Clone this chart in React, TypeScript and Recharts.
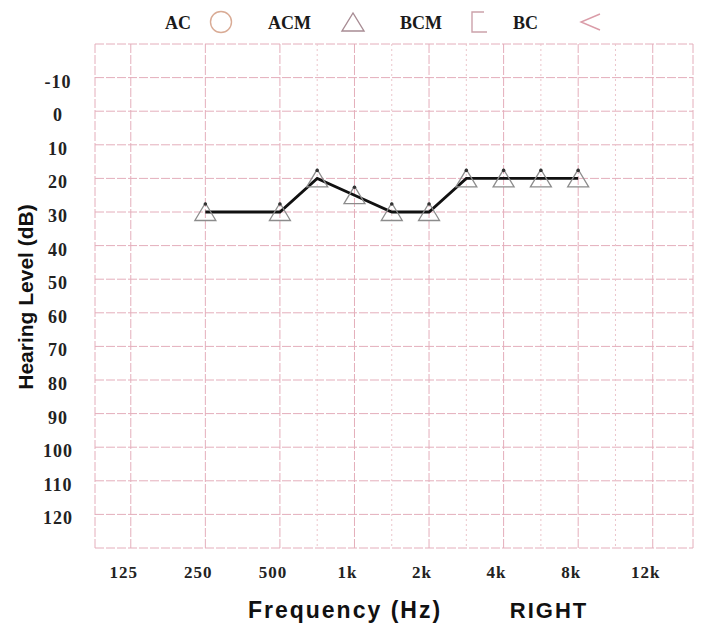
import { CartesianGrid, Line, LineChart, XAxis, YAxis } from "recharts";

// octave steps on the audiogram frequency axis (125 Hz = 0, 12 kHz = 7)
const freqTickSteps = [0, 1, 2, 3, 4, 5, 6, 7];
const freqTickLabels = ["125", "250", "500", "1k", "2k", "4k", "8k", "12k"];
const halfOctaveSteps = [2.5, 3.5, 4.5, 5.5, 6.5];

const levelTicks = [-10, 0, 10, 20, 30, 40, 50, 60, 70, 80, 90, 100, 110, 120];

// right ear, ACM (masked air conduction) thresholds
const testFreqs = ["250", "500", "750", "1k", "1.5k", "2k", "3k", "4k", "6k", "8k"];
const testSteps = [1, 2, 2.5, 3, 3.5, 4, 4.5, 5, 5.5, 6];
const acmLevels = [30, 30, 20, 25, 30, 30, 20, 20, 20, 20];

const data = testFreqs.map((f, i) => ({ freq: f, step: testSteps[i], acm: acmLevels[i] }));

const X_DOMAIN: [number, number] = [-0.48, 7.54];
const Y_DOMAIN: [number, number] = [-20, 130];

const GRID = "#e4aebb";
const SERIF = "'Liberation Serif', 'Times New Roman', serif";
const SANS = "'Liberation Sans', Arial, sans-serif";

function FreqTick({ x, y, payload }: any) {
  const idx = freqTickSteps.indexOf(payload.value);
  return (
    <text x={x - 7} y={y + 22} textAnchor="middle" fontFamily={SERIF} fontWeight="bold" fontSize={17} letterSpacing={1} fill="#222">
      {freqTickLabels[idx]}
    </text>
  );
}

function LevelTick({ y, payload }: any) {
  return (
    <text x={58} y={y + 10} textAnchor="middle" fontFamily={SERIF} fontWeight="bold" fontSize={18} letterSpacing={1} fill="#222">
      {payload.value}
    </text>
  );
}

function TriangleDot({ cx, cy, index }: any) {
  if (cx == null || cy == null) return null;
  return (
    <g key={index}>
      <polygon
        points={`${cx},${cy - 9} ${cx - 10.5},${cy + 8.5} ${cx + 10.5},${cy + 8.5}`}
        fill="none"
        stroke="#8c8c8c"
        strokeWidth={1.3}
      />
      <circle cx={cx} cy={cy - 8} r={1.8} fill="#333" />
    </g>
  );
}

export default function App() {
  return (
    <div style={{ position: "absolute", left: 0, top: 0, width: 704, height: 628, background: "#fff" }}>
      <LineChart width={704} height={628} data={data} margin={{ top: 44, right: 11, bottom: 50, left: 0 }}>
        {/* horizontal grid + frame */}
        <CartesianGrid
          stroke={GRID}
          strokeDasharray="9 2"
          vertical={false}
          horizontalValues={[-20, ...levelTicks, 130]}
        />
        {/* octave lines + frame */}
        <CartesianGrid
          stroke={GRID}
          strokeDasharray="9 2"
          horizontal={false}
          verticalValues={[X_DOMAIN[0], ...freqTickSteps, X_DOMAIN[1]]}
        />
        {/* half-octave lines */}
        <CartesianGrid
          stroke="#ebc4ca"
          strokeDasharray="2 3"
          horizontal={false}
          verticalValues={halfOctaveSteps}
        />
        <XAxis
          type="number"
          dataKey="step"
          domain={X_DOMAIN}
          ticks={freqTickSteps}
          allowDataOverflow
          axisLine={false}
          tickLine={false}
          height={30}
          interval={0}
          tick={<FreqTick />}
        />
        <YAxis
          type="number"
          domain={Y_DOMAIN}
          ticks={levelTicks}
          reversed
          allowDataOverflow
          axisLine={false}
          tickLine={false}
          width={95}
          interval={0}
          tick={<LevelTick />}
        />
        <Line
          type="linear"
          dataKey="acm"
          stroke="#111"
          strokeWidth={2.8}
          dot={<TriangleDot />}
          activeDot={false}
          isAnimationActive={false}
        />
      </LineChart>

      {/* legend and axis titles */}
      <svg width={704} height={628} style={{ position: "absolute", left: 0, top: 0, pointerEvents: "none" }}>
        <g fontFamily={SERIF} fontWeight="bold" fontSize={18} fill="#1a1a1a">
          <text x={165} y={29}>AC</text>
          <text x={268} y={29}>ACM</text>
          <text x={400} y={29}>BCM</text>
          <text x={513} y={29}>BC</text>
        </g>
        <circle cx={221} cy={22} r={10.5} fill="none" stroke="#d9ab95" strokeWidth={1.4} />
        <polygon points="353,13 342,31 364,31" fill="none" stroke="#a88c94" strokeWidth={1.4} />
        <polyline points="484,12 472,12 472,32 487,32" fill="none" stroke="#cca2ab" strokeWidth={1.4} />
        <polyline points="600,14 581,22 600,30" fill="none" stroke="#da9ca8" strokeWidth={1.4} />

        <text
          x={0}
          y={0}
          transform="translate(33 297) rotate(-90)"
          textAnchor="middle"
          fontFamily={SANS}
          fontWeight="bold"
          fontSize={21}
          fill="#111"
        >
          Hearing Level (dB)
        </text>
        <text x={345} y={618} textAnchor="middle" fontFamily={SANS} fontWeight="bold" fontSize={23} letterSpacing={2} fill="#111">
          Frequency (Hz)
        </text>
        <text x={549} y={618} textAnchor="middle" fontFamily={SANS} fontWeight="bold" fontSize={22} letterSpacing={2} fill="#111">
          RIGHT
        </text>
      </svg>
    </div>
  );
}
